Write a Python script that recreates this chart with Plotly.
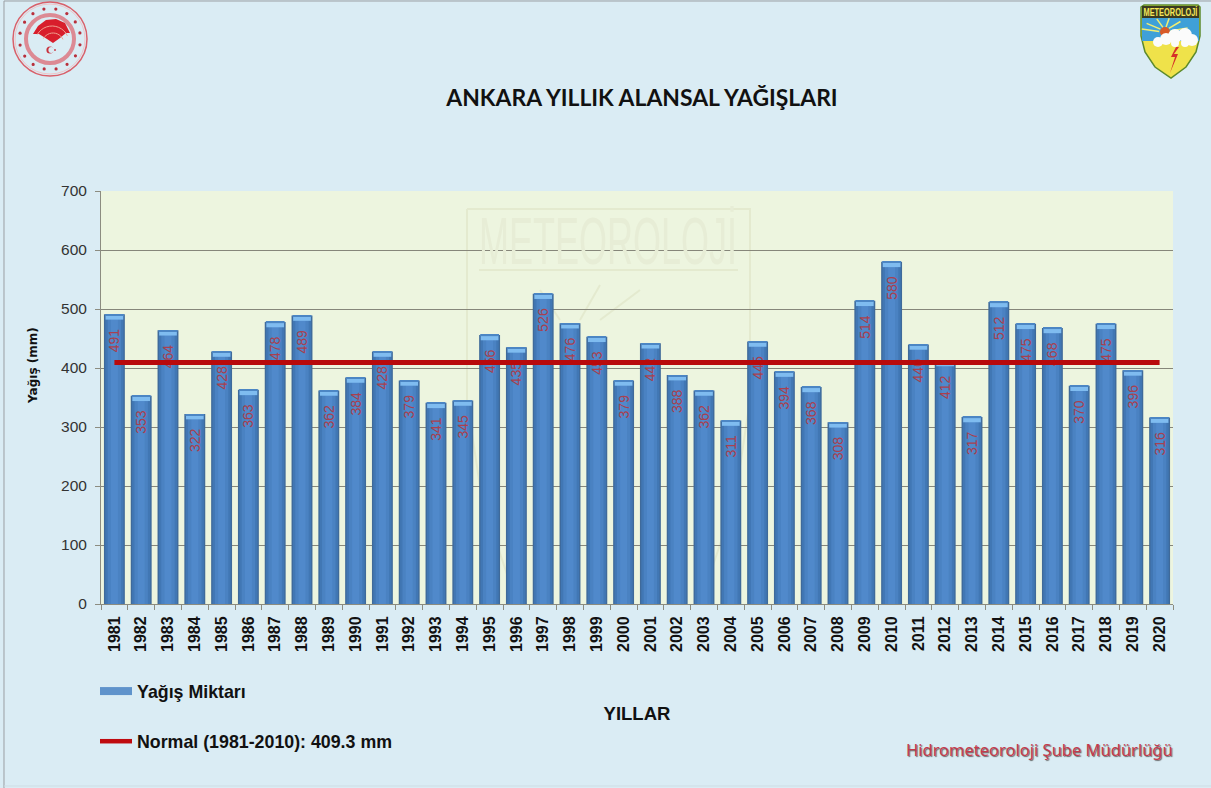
import math
import plotly.graph_objects as go

years = [str(y) for y in range(1981, 2021)]
rain = [491, 353, 464, 322, 428, 363, 478, 489, 362, 384, 428, 379, 341, 345, 456, 435, 526, 476, 453, 379,
        442, 388, 362, 311, 445, 394, 368, 308, 514, 580, 440, 412, 317, 512, 475, 468, 370, 475, 396, 316]
normal_value = 409.3
normal = [normal_value] * len(years)
title_text = "ANKARA YILLIK ALANSAL YAĞIŞLARI"
rain_name = "Yağış Miktarı"
normal_name = "Normal (1981-2010): 409.3 mm"
credit = "Hidrometeoroloji Şube Müdürlüğü"

W, H = 1211, 788
L, R, T, B = 101, 1173, 191, 604
BG = "#daecf4"
PLOT_BG = "#edf5df"
WM = "#e4eacf"

def px(x):
    return (x - L) / (R - L)

def py(y):
    return (B - y) / (B - T)

def path(points, close=True):
    s = "M " + " L ".join(f"{px(x):.5f},{py(y):.5f}" for x, y in points)
    return s + (" Z" if close else "")

shapes = []
annotations = []

def poly(points, fill=None, line=None, lw=1, layer="above", close=True):
    shapes.append(dict(type="path", xref="paper", yref="paper", path=path(points, close), layer=layer,
                       fillcolor=fill or "rgba(0,0,0,0)", line=dict(color=line or "rgba(0,0,0,0)", width=lw if line else 0)))

def circle(cx, cy, r, fill=None, line=None, lw=1):
    shapes.append(dict(type="circle", xref="paper", yref="paper", x0=px(cx - r), x1=px(cx + r), y0=py(cy + r), y1=py(cy - r),
                       fillcolor=fill or "rgba(0,0,0,0)", line=dict(color=line or "rgba(0,0,0,0)", width=lw if line else 0)))

def arc_pts(cx, cy, r, a0, a1, n=24):
    return [(cx + r * math.cos(math.radians(a0 + (a1 - a0) * i / n)), cy - r * math.sin(math.radians(a0 + (a1 - a0) * i / n))) for i in range(n + 1)]

# page frame
poly([(4, 790), (4, 1), (1212, 1)], line="#9a9ea2", lw=1, close=False)
poly([(4, 786), (1212, 786)], line="#cfdde4", lw=1, close=False)

# left emblem
circle(50, 39, 37, line="#d9606a", lw=1.5)
circle(50, 39, 24, line="#dc8a94", lw=4)
circle(50, 39, 35, line="#f0c4c8", lw=1)
for i in range(16):
    a = math.radians(360 * i / 16 + 11)
    circle(50 + 30.5 * math.cos(a), 39 + 30.5 * math.sin(a), 1.6, fill="#b8303c")
poly([(33, 34), (38, 26), (46, 20), (56, 19), (65, 23), (70, 33), (66, 33), (60, 38), (53, 43), (47, 39), (39, 34)], fill="#d81e2c")
poly(arc_pts(52, 43, 17, 150, 25, 12), line="#f0a090", lw=1, close=False)
poly(arc_pts(53, 44, 11, 150, 25, 12), line="#f0a090", lw=1, close=False)
circle(50, 50, 3.6, fill="#c8303c")
circle(51.3, 50, 2.9, fill=BG)
circle(55, 50, 0.9, fill="#c8303c")

# right emblem
shield = [(1141, 7), (1144, 5), (1198, 5), (1200, 7), (1200, 36), (1196, 52), (1186, 67), (1171, 78), (1155, 67), (1145, 52), (1141, 36)]
poly(shield, fill="#efe24a", line="#5c8a2c", lw=1.5)
poly([(1142, 18), (1199, 18), (1199, 41), (1142, 41)], fill="#3fa0d8")
poly([(1142, 6), (1199, 6), (1199, 18), (1142, 18)], fill="#3a3a20")
for a in (20, 50, 80, 110, 140, 165):
    r = math.radians(a)
    poly([(1165 + 6 * math.cos(r), 33 - 6 * math.sin(r)), (1165 + 24 * math.cos(r), 33 - 15 * math.sin(r))], line="#f4ee70", lw=1.5, close=False)
circle(1165, 32, 5, fill="#d85a28")
for cx, cy, r in [(1158, 42, 5), (1166, 39, 6), (1175, 36, 7), (1185, 35, 7), (1192, 40, 6), (1175, 43, 4), (1185, 43, 4)]:
    circle(cx, cy, r, fill="#fbfbfb")
poly([(1176, 47), (1171, 57), (1175, 57), (1170, 73), (1178, 54), (1174, 54), (1179, 47)], fill="#d6312a")
annotations.append(dict(text="<b>METEOROLOJİ</b>", xref="paper", yref="paper", x=px(1170.5), y=py(12), xanchor="center", yanchor="middle",
                        showarrow=False, font=dict(family="Liberation Sans", size=10, color="#f5e85a")))

# watermark
poly([(467, 209), (750, 209), (750, 400), (735, 500), (700, 604)], line=WM, lw=2, layer="between", close=False)
poly([(467, 209), (467, 400), (482, 500), (517, 604)], line=WM, lw=2, layer="between", close=False)
poly([(479, 270), (738, 270)], line=WM, lw=2, layer="between", close=False)
poly([(580, 320), (600, 285)], line=WM, lw=2, layer="between", close=False)
poly([(600, 320), (640, 290)], line=WM, lw=2, layer="between", close=False)
poly([(560, 320), (540, 290)], line=WM, lw=2, layer="between", close=False)
annotations.append(dict(text="METEOROLOJİ", xref="paper", yref="paper", x=px(608), y=py(240), xanchor="center", yanchor="middle",
                        showarrow=False, font=dict(family="Liberation Sans", size=36, color="#e7edd6")))

fig = go.Figure()
for width, color in [(0.78, "#3f6a9a"), (0.68, "#4177b4"), (0.5, "#4a82c2"), (0.26, "#5089cb")]:
    fig.add_trace(go.Bar(x=years, y=rain, width=width, marker=dict(color=color, line=dict(width=0)), showlegend=False, hoverinfo="skip"))

# bevelled top of each bar
fig.add_trace(go.Bar(x=years, y=[-9] * len(years), base=rain, width=0.66, marker=dict(color="#7fbcf0", line=dict(width=0)),
                     showlegend=False, hoverinfo="skip"))
fig.add_trace(go.Bar(x=years, y=[-2] * len(years), base=rain, width=0.7, marker=dict(color="#4c86c4", line=dict(width=0)),
                     showlegend=False, hoverinfo="skip"))

# value labels, inside the top of each bar
fig.add_trace(go.Bar(x=years, y=rain, name=rain_name, width=0.78, marker=dict(color="rgba(0,0,0,0)", line=dict(width=0)),
                     text=[f"{v}\u00a0\u00a0\u00a0" for v in rain], textposition="inside", insidetextanchor="end", textangle=-90,
                     constraintext="none", insidetextfont=dict(family="Liberation Sans, Arial", size=14, color="#a8404f"),
                     showlegend=False, cliponaxis=False))

fig.add_trace(go.Scatter(x=years, y=normal, mode="lines", name=normal_name, line=dict(color="#b80a0c", width=5), showlegend=False))

# legend entries
fig.add_trace(go.Scatter(x=[None], y=[None], mode="lines", name=rain_name, legendgroup="a", line=dict(color="#5f93cb", width=8)))
fig.add_trace(go.Scatter(x=[None], y=[None], mode="lines", name=normal_name, legendgroup="b", line=dict(color="#bf0a0f", width=4.5)))

annotations.append(dict(text=credit, xref="paper", yref="paper", x=px(1175), y=py(749), xanchor="right", yanchor="middle", showarrow=False,
                        font=dict(family="Noto Sans", size=16.5, color="#c63a4c", shadow="1px 1px 1px #666666")))
annotations.append(dict(text="<b>Yağış (mm)</b>", xref="paper", yref="paper", x=px(33), y=py(366), xanchor="center", yanchor="middle",
                        textangle=-90, showarrow=False, font=dict(family="DejaVu Sans", size=12, color="#111111")))

fig.update_layout(
    width=W, height=H,
    margin=dict(l=L, r=W - R, t=T, b=H - B, autoexpand=False),
    paper_bgcolor=BG, plot_bgcolor=PLOT_BG,
    barmode="overlay",
    title=dict(text=f"<b>{title_text}</b>", x=642 / W, xanchor="center", y=1 - 98 / H, yanchor="middle",
               font=dict(family="Lato", size=22.9, color="#111111")),
    font=dict(family="Liberation Sans, Arial", color="#222222"),
    legend=dict(x=px(95), y=py(673), xanchor="left", yanchor="top", bgcolor="rgba(0,0,0,0)", itemwidth=32,
                tracegroupgap=24, font=dict(family="Liberation Sans, Arial", size=17.8, color="#111111", weight="bold"),
                traceorder="grouped"),
    xaxis=dict(type="category", tickangle=-90, tickson="boundaries", ticks="outside", ticklen=5, tickcolor="#8c8c80",
               ticklabelstandoff=5,
               tickfont=dict(family="Liberation Sans, Arial", size=16, color="#111111", weight="bold"),
               showline=True, linecolor="#8c8c80", linewidth=1, showgrid=False,
               title=dict(text="<b>YILLAR</b>", standoff=56, font=dict(family="Liberation Sans, Arial", size=18.5, color="#111111"))),
    yaxis=dict(range=[0, 700], dtick=100, ticks="outside", ticklen=5, tickcolor="#8c8c80", ticklabelstandoff=5,
               tickfont=dict(family="Liberation Sans, Arial", size=15.5, color="#333333"),
               showline=True, linecolor="#8c8c80", linewidth=1, mirror=False, gridcolor="#86867a", gridwidth=1,
               zeroline=False),
    shapes=shapes, annotations=annotations,
    hovermode=False,
)

# the emblem and watermark lettering is condensed and tall: stretch those two text elements
post = """
document.body.style.margin='0';document.body.style.overflow='hidden';
document.querySelectorAll('.annotation-text').forEach(function(t){
  if(t.textContent.indexOf('METEOROLOJ')<0){return;}
  var big=parseFloat(t.style.fontSize)>20, b=t.getBBox(), cx=b.x+b.width/2, cy=b.y+b.height/2;
  var sx=big?1:0.74, sy=big?1.85:1.05;
  t.setAttribute('transform','translate('+cx+' '+cy+') scale('+sx+' '+sy+') translate('+(-cx)+' '+(-cy)+')');
});
"""
fig.write_html("out.html", post_script=post, config={"displayModeBar": False})
